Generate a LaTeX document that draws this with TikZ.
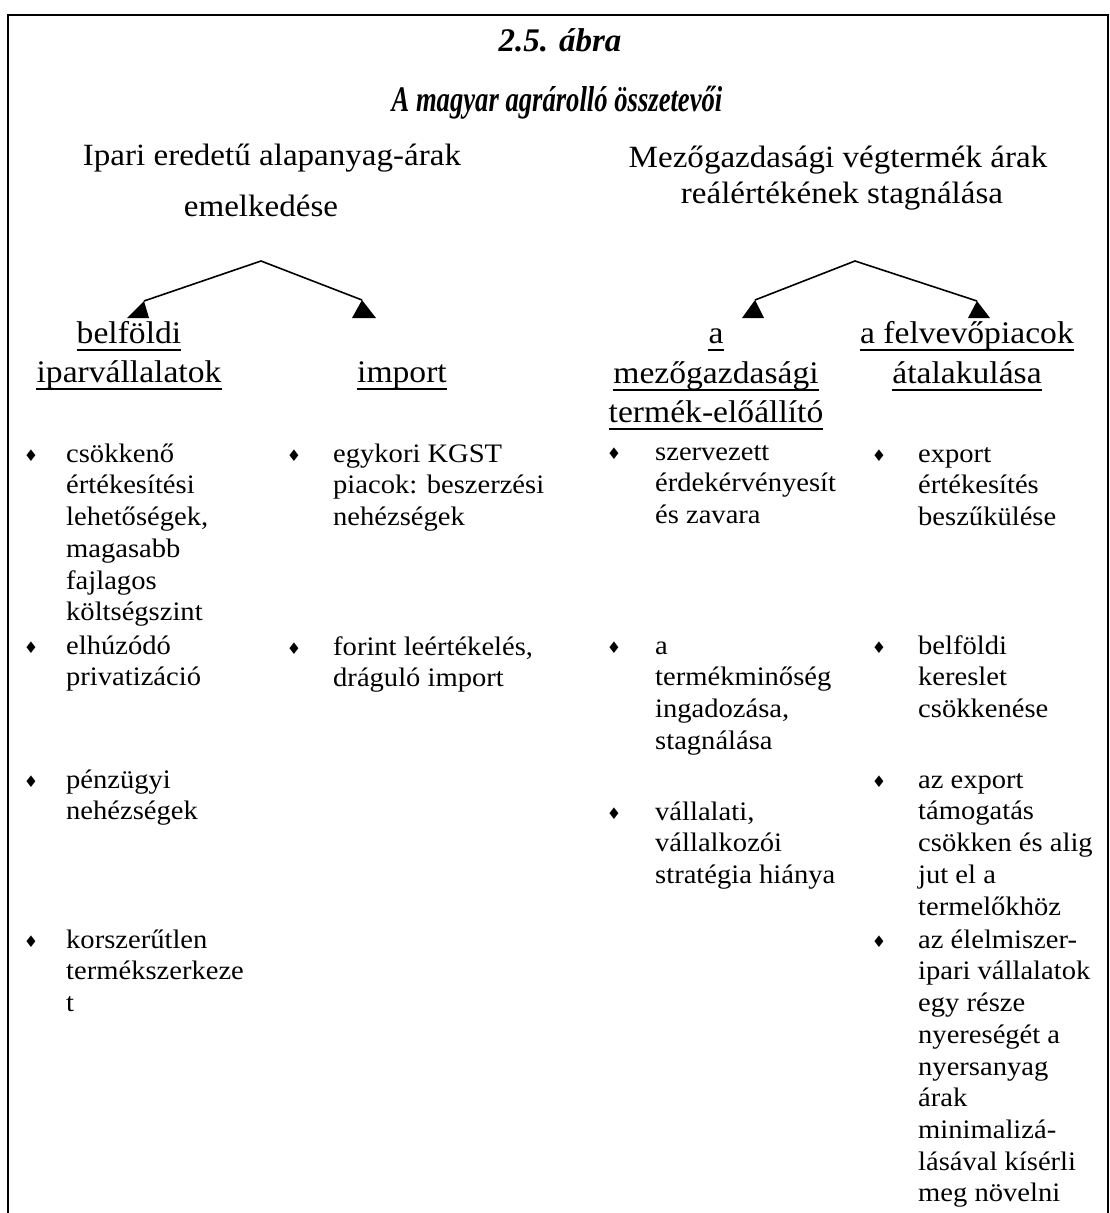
\documentclass[tikz,border=0pt]{standalone}
\usepackage{fontspec}
\setmainfont{Liberation Serif}[FakeStretch=1.07]
\newfontfamily\ttlfontA{Liberation Serif}[FakeStretch=1.0]
\newfontfamily\ttlfontB{Liberation Serif}[FakeStretch=0.74]
\newfontfamily\symfont{DejaVu Sans}
\newcommand\bitem[5]{%
  \node[dot] (#1d) at (#2,#4-6) {♦};
  \node[body] (#1) at (#3,#4-22.19) {\strut#5};
}
\begin{document}
\begin{tikzpicture}[x=1pt,y=-1pt,
  frame/.style={line width=2pt},
  conn/.style={line width=1.6pt},
  tipfill/.style={fill=black},
  ttlA/.style={font=\ttlfontA\bfseries\itshape\fontsize{33}{33}\selectfont, inner sep=0, anchor=base},
  ttlB/.style={font=\ttlfontB\bfseries\itshape\fontsize{36}{36}\selectfont, inner sep=0, anchor=base},
  toph/.style={font=\fontsize{30.9}{36}\selectfont, inner sep=0, anchor=base},
  hd/.style={font=\fontsize{31.4}{40}\selectfont, inner sep=0, anchor=base},
  ul/.style={line width=2pt},
  body/.style={font=\fontsize{26.7}{31.7}\selectfont, inner sep=0, anchor=north west, align=left},
  dot/.style={font=\symfont\fontsize{16}{16}\selectfont, inner sep=0}]
\useasboundingbox (0,0) rectangle (1110,1213);
% frame
\draw[frame] (8,1213) -- (8,15) -- (1108,15) -- (1108,1213);
% title
\node[ttlA] (t1) at (560,51) {2.5. ábra};
\node[ttlB] (t2) at (557,111) {A magyar agrárolló összetevői};
% top headings
\node[toph] (tL1) at (272,165) {Ipari eredetű alapanyag-árak};
\node[toph] (tL2) at (261,216) {emelkedése};
\node[toph] (tR1) at (838,167) {Mezőgazdasági végtermék árak};
\node[toph] (tR2) at (842,203) {reálértékének stagnálása};
% arrows
\coordinate (aL) at (261,261);
\coordinate (aL1) at (144,301);
\coordinate (aL2) at (362,300);
\coordinate (aR) at (855,261);
\coordinate (aR1) at (755,300);
\coordinate (aR2) at (977,301);
\draw[conn] (aL1) -- (aL) -- (aL2);
\draw[conn] (aR1) -- (aR) -- (aR2);
\fill[tipfill] (aL1) -- (127,318) -- (149,318) -- cycle;
\fill[tipfill] (aL2) -- (352,318) -- (376,318) -- cycle;
\fill[tipfill] (aR1) -- (742,318) -- (764,318) -- cycle;
\fill[tipfill] (aR2) -- (968,318) -- (990,318) -- cycle;
% column headings
\node[hd] (hA1) at (129,343) {belföldi};
\node[hd] (hA2) at (129,382) {iparvállalatok};
\node[hd] (hB)  at (402,382) {import};
\node[hd] (hC1) at (716,343) {a};
\node[hd] (hC2) at (716,383) {mezőgazdasági};
\node[hd] (hC3) at (716,422) {termék-előállító};
\node[hd] (hD1) at (967,343) {a felvevőpiacok};
\node[hd] (hD2) at (967,383) {átalakulása};
\foreach \n in {hA1,hA2,hB,hC1,hC2,hC3,hD1,hD2}
  \draw[ul] ([yshift=-7pt]\n.base west) -- ([yshift=-7pt]\n.base east);
% column 1
\bitem{a1}{31}{66}{462}{csökkenő\\értékesítési\\lehetőségek,\\magasabb\\fajlagos\\költségszint}
\bitem{a2}{31}{66}{654}{elhúzódó\\privatizáció}
\bitem{a3}{31}{66}{788}{pénzügyi\\nehézségek}
\bitem{a4}{31}{66}{948}{korszerűtlen\\termékszerkeze\\t}
% column 2
\bitem{b1}{294}{333}{462}{egykori KGST\\piacok: beszerzési\\nehézségek}
\bitem{b2}{294}{333}{655}{forint leértékelés,\\dráguló import}
% column 3
\bitem{c1}{614}{655}{460}{szervezett\\érdekérvényesít\\és zavara}
\bitem{c2}{614}{655}{654}{a\\termékminőség\\ingadozása,\\stagnálása}
\bitem{c3}{614}{655}{820}{vállalati,\\vállalkozói\\stratégia hiánya}
% column 4
\bitem{d1}{879}{918}{462}{export\\értékesítés\\beszűkülése}
\bitem{d2}{879}{918}{654}{belföldi\\kereslet\\csökkenése}
\bitem{d3}{879}{918}{788}{az export\\támogatás\\csökken és alig\\jut el a\\termelőkhöz}
\bitem{d4}{879}{918}{948}{az élelmiszer-\\ipari vállalatok\\egy része\\nyereségét a\\nyersanyag\\árak\\minimalizá-\\lásával kísérli\\meg növelni}
\end{tikzpicture}
\end{document}
